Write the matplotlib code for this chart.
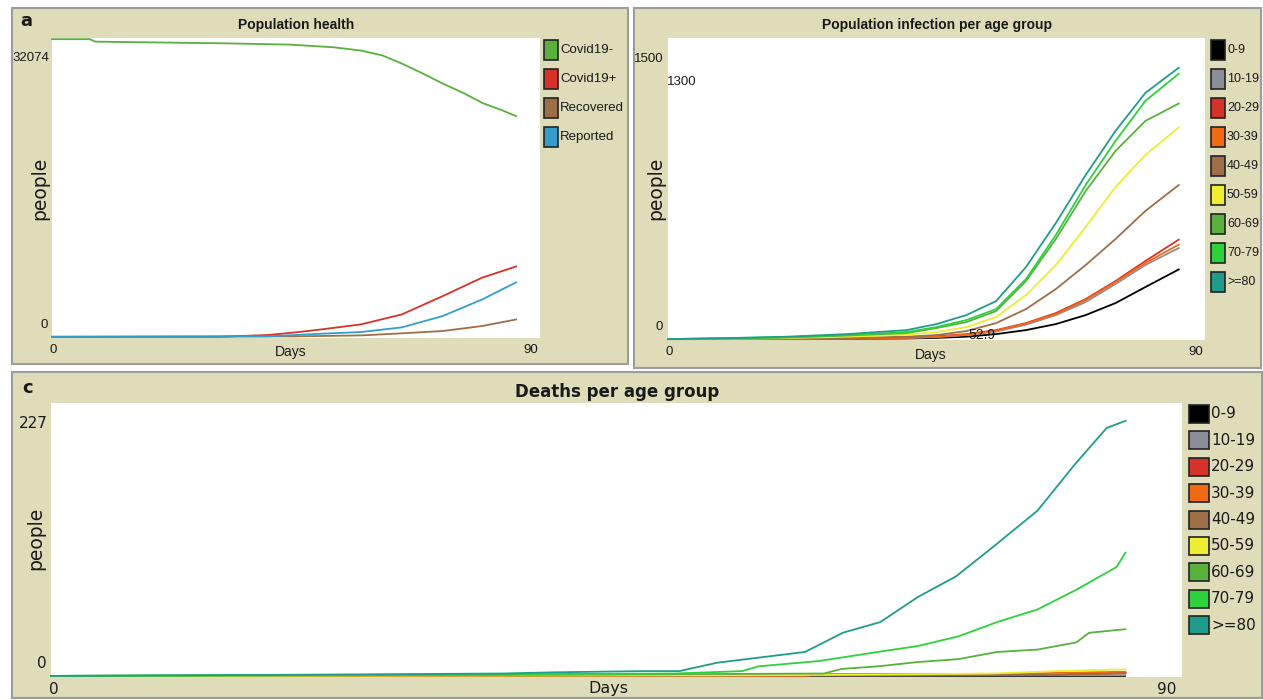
import matplotlib
matplotlib.use('Agg')
import matplotlib.pyplot as plt
from matplotlib.patches import Rectangle

# ---- data (x = days) ----
# panel a: population health
a_labels = ['Covid19-', 'Covid19+', 'Recovered', 'Reported']
a_neg_days = [0, 7, 8, 32, 44, 52, 57, 61, 64.5, 68, 72, 76, 79.5, 83, 85.6]
a_neg = [32074, 32074, 31809, 31627, 31488, 31199, 30846, 30310, 29453, 28489, 27311, 26240, 25169, 24419, 23777]
a_pos_days = [0, 31, 40, 45, 50, 57, 64.5, 72, 79.3, 85.6]
a_pos = [0, 0, 200, 480, 820, 1340, 2410, 4370, 6370, 7580]
a_rec_days = [0, 45, 57, 64.5, 72, 79.3, 85.6]
a_rec = [0, 50, 150, 375, 620, 1160, 1870]
a_rep_days = [0, 40, 50, 57, 64.5, 72, 79.3, 85.6]
a_rep = [0, 50, 340, 514, 1017, 2228, 4016, 5870]
a_ymax = 32074

# age groups (shared by panels b and c)
age_groups = ['0-9', '10-19', '20-29', '30-39', '40-49', '50-59', '60-69', '70-79', '>=80']

# panel b: infections per age group
b_days = [0, 10, 20, 30, 40, 45, 50, 55, 60, 65, 70, 75, 80, 85.6]
b_inf = {
    '0-9':   [0, 0, 0, 1, 3, 6, 12, 25, 45, 75, 120, 180, 260, 348],
    '10-19': [0, 0, 1, 2, 5, 10, 20, 38, 72, 120, 185, 275, 370, 455],
    '20-29': [0, 0, 1, 4, 8, 14, 25, 45, 80, 130, 200, 290, 390, 497],
    '30-39': [0, 0, 1, 3, 7, 12, 22, 42, 78, 125, 195, 285, 380, 472],
    '40-49': [0, 1, 2, 6, 12, 20, 40, 80, 150, 250, 370, 500, 640, 770],
    '50-59': [0, 2, 5, 12, 22, 35, 60, 110, 220, 370, 560, 760, 920, 1058],
    '60-69': [0, 3, 8, 18, 30, 55, 85, 140, 290, 500, 740, 940, 1090, 1177],
    '70-79': [0, 4, 10, 20, 35, 60, 95, 150, 300, 520, 770, 990, 1190, 1326],
    '>=80':  [0, 5, 12, 25, 45, 75, 120, 190, 360, 580, 820, 1040, 1230, 1356],
}
b_ymax = 1500

# panel c: deaths per age group
c_deaths = {
    '0-9':   ([0, 85.5], [0, 0]),
    '10-19': ([0, 85.5], [0, 0.5]),
    '20-29': ([0, 60, 61, 80, 82, 85.5], [0, 0, 1, 1, 2, 2.5]),
    '30-39': ([0, 60, 61, 75, 80, 85.5], [0, 0, 1.5, 1.5, 2.5, 3.5]),
    '40-49': ([0, 70, 80, 85.5], [0, 0.5, 1, 2]),
    '50-59': ([0, 55, 65, 75, 80, 85.5], [0, 0.5, 1, 2, 4, 5.5]),
    '60-69': ([0, 40, 61.5, 62.9, 65.8, 69, 72.2, 75.3, 78.5, 81.6, 82.6, 85.5],
              [0, 1, 2, 5.8, 8, 11.6, 14, 20, 22, 28, 36, 39]),
    '70-79': ([0, 30, 49.6, 55, 56.3, 61.1, 65.8, 69, 72.2, 75.3, 78.5, 81.6, 84.8, 85.5],
              [0, 1, 2, 4, 8, 12.4, 20, 25, 33, 45, 55.5, 72, 91, 103]),
    '>=80':  ([0, 20, 36, 40, 47, 50, 53, 60, 63, 66, 69, 72, 75, 78.5, 81.5, 84, 85.5],
              [0, 1, 2, 3, 4, 4, 11, 20, 36, 45, 66, 83, 108, 138, 177, 207, 213]),
}
c_ymax = 227

# ---- styling ----
W, H = 1263, 700
TAN = '#dedcb9'
NARROW = ['Liberation Sans', 'DejaVu Sans']
REG = ['DejaVu Sans']
INK = '#1a1a1a'
a_colors = ['#59b03c', '#d73229', '#9d6e48', '#349dcb']
age_colors = ['#000000', '#8d8d9a', '#d73229', '#f16913', '#9d6e48',
              '#eded31', '#59b03c', '#2cd13b', '#1f9c8a']

fig = plt.figure(figsize=(W / 100, H / 100), dpi=100)
fig.patch.set_facecolor('white')


def box(x0, y0, x1, y1):
    return [x0 / W, 1 - y1 / H, (x1 - x0) / W, (y1 - y0) / H]


def ftext(x, y, s, **kw):
    kw.setdefault('color', INK)
    fig.text(x / W, 1 - y / H, s, **kw)


def frame(x0, y0, x1, y1):
    fig.add_artist(Rectangle((x0 / W, 1 - y1 / H), (x1 - x0) / W, (y1 - y0) / H,
                             transform=fig.transFigure, fc=TAN, ec='#9c9c9c', lw=1.5, zorder=0))


def legend(x, y0, step, labels, colors, sw, sh, fam, size):
    for i, (lab, col) in enumerate(zip(labels, colors)):
        y = y0 + i * step
        fig.add_artist(Rectangle((x / W, 1 - (y + sh / 2) / H), sw / W, sh / H,
                                 transform=fig.transFigure, fc=col, ec='#222222', lw=1.2))
        ftext(x + sw + 2, y, lab, family=fam, fontsize=size, va='center', ha='left')


def plot_axes(rect, ymax, pad):
    ax = fig.add_axes(box(*rect))
    ax.set_facecolor('white')
    ax.set_xlim(0, 90)
    ax.set_ylim(-ymax * pad, ymax * (1 + pad))
    ax.set_xticks([])
    ax.set_yticks([])
    for s in ax.spines.values():
        s.set_visible(False)
    return ax


def tick_labels(ax, ymax, fam, size, top_off, zero_off, x_off=-3, x90_off=-2):
    kw = dict(family=fam, fontsize=size, va='center', color=INK,
              textcoords='offset pixels', annotation_clip=False)
    ax.annotate(str(ymax), xy=(0, ymax), xycoords=('axes fraction', 'data'),
                xytext=(x_off, top_off), ha='right', **kw)
    ax.annotate('0', xy=(0, 0), xycoords=('axes fraction', 'data'),
                xytext=(x_off - 1, zero_off), ha='right', **kw)
    ax.annotate('0', xy=(0, 0), xycoords='axes fraction',
                xytext=(-2, -12), ha='left', **kw)
    ax.annotate('90', xy=(1, 0), xycoords='axes fraction',
                xytext=(x90_off, -12), ha='right', **kw)


# frames
frame(12, 8, 628, 364)
frame(634, 8, 1261, 368)
frame(12, 372, 1262, 698)

# ---- panel a ----
ax_a = plot_axes((52, 38, 540, 338), a_ymax, 0.004)
for d, v, c in [(a_neg_days, a_neg, a_colors[0]), (a_pos_days, a_pos, a_colors[1]),
                (a_rec_days, a_rec, a_colors[2]), (a_rep_days, a_rep, a_colors[3])]:
    ax_a.plot(d, v, color=c, lw=1.3, clip_on=False)
tick_labels(ax_a, a_ymax, NARROW, 9.5, -19, 12)
ftext(296, 25, 'Population health', family=NARROW, fontsize=10, weight='bold', ha='center', va='center')
ftext(291, 352, 'Days', family=NARROW, fontsize=10, ha='center', va='center')
ftext(40, 188, 'people', family=REG, fontsize=13.5, rotation=90, ha='center', va='center')
ftext(26, 21, 'a', family=REG, fontsize=13, weight='bold', ha='center', va='center')
legend(544, 50, 29, a_labels, a_colors, 14, 20, NARROW, 9.5)

# ---- panel b ----
ax_b = plot_axes((668, 38, 1205, 340), b_ymax, 0.003)
for g, c in zip(age_groups, age_colors):
    ax_b.plot(b_days, b_inf[g], color=c, lw=1.3, clip_on=False)
tick_labels(ax_b, b_ymax, NARROW, 9.5, -20, 12, x_off=-4)
ftext(682, 82, '1300', family=NARROW, fontsize=9.5, ha='center', va='center')
ftext(982, 335, '52.9', family=NARROW, fontsize=10, ha='center', va='center')
ftext(937, 25, 'Population infection per age group', family=NARROW, fontsize=10,
      weight='bold', ha='center', va='center')
ftext(931, 355, 'Days', family=NARROW, fontsize=10, ha='center', va='center')
ftext(656, 188, 'people', family=REG, fontsize=13.5, rotation=90, ha='center', va='center')
legend(1211, 50, 29, age_groups, age_colors, 14, 20, NARROW, 9)

# ---- panel c ----
ax_c = plot_axes((51, 403, 1182, 677), c_ymax, 0.004)
for g, c in zip(age_groups, age_colors):
    d, v = c_deaths[g]
    ax_c.plot(d, v, color=c, lw=1.3, clip_on=False)
tick_labels(ax_c, c_ymax, REG, 11, -19, 12, x90_off=-6)
ftext(617, 392, 'Deaths per age group', family=REG, fontsize=12, weight='bold', ha='center', va='center')
ftext(608, 689, 'Days', family=REG, fontsize=11.5, ha='center', va='center')
ftext(36, 538, 'people', family=REG, fontsize=13.5, rotation=90, ha='center', va='center')
ftext(28, 388, 'c', family=REG, fontsize=13, weight='bold', ha='center', va='center')
legend(1189, 414, 26.4, age_groups, age_colors, 20, 18, REG, 11)

fig.savefig('out.png', dpi=100)
